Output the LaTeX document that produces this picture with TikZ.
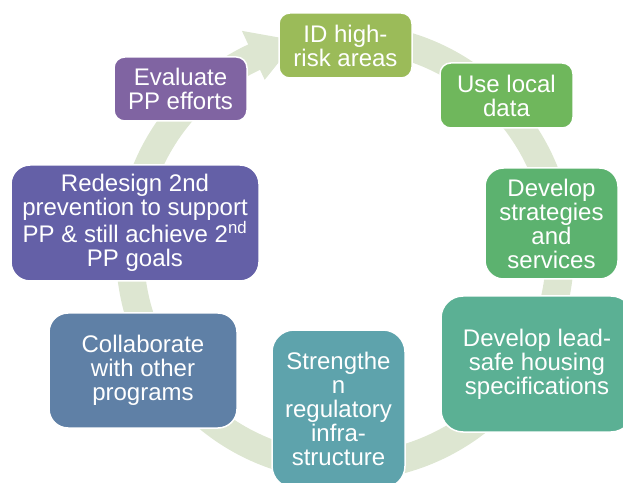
\documentclass[tikz,border=0pt]{standalone}
\usepackage{fontspec}
\setmainfont{Liberation Sans}
\usetikzlibrary{calc}

% stage fills, going round the cycle
\definecolor{cycleband}{RGB}{221,230,209}
\definecolor{stageA}{RGB}{155,187,89}
\definecolor{stageB}{RGB}{111,183,92}
\definecolor{stageC}{RGB}{92,178,111}
\definecolor{stageD}{RGB}{91,176,148}
\definecolor{stageE}{RGB}{94,163,172}
\definecolor{stageF}{RGB}{95,128,166}
\definecolor{stageG}{RGB}{100,96,167}
\definecolor{stageH}{RGB}{128,100,162}

\begin{document}
\begin{tikzpicture}[x=1pt,y=1pt,
  stage/.style={draw=white, line width=1.5pt, text=white, align=center,
    inner sep=0pt, font=\fontsize{24}{24}\selectfont},
  band/.style={fill=cycleband, draw=none}]
\clip (0,0) rectangle (623,482);

% circular arrow running clockwise behind the stages
\coordinate (hub) at (345,230);
\fill[band] ($(hub)+(80:229)$) arc[start angle=80, end angle=-245, radius=229]
  -- ($(hub)+(-245:244)$) -- ($(hub)+(-257:217)$) -- ($(hub)+(-245:190)$)
  -- ($(hub)+(-245:201)$) arc[start angle=-245, end angle=80, radius=201] -- cycle;

% stages
\node[stage, fill=stageA, minimum width=133pt, minimum height=65pt, rounded corners=10.8pt]
  (idrisk) at (345.5,436.5) {ID high-\\risk areas};
\node[stage, fill=stageB, minimum width=133pt, minimum height=65pt, rounded corners=10.8pt]
  (localdata) at (506.5,386.5) {Use local\\data};
\node[stage, fill=stageC, minimum width=133pt, minimum height=111pt, rounded corners=18.5pt]
  (strategies) at (551.5,258.5) {Develop\\strategies\\and\\services};
\node[stage, fill=stageD, minimum width=192pt, minimum height=136pt, rounded corners=22pt]
  (housing) at (537,118) {Develop lead-\\safe housing\\specifications};
\node[stage, fill=stageE, minimum width=133pt, minimum height=158pt, rounded corners=22pt]
  (regulatory) at (338.5,73) {Strengthe\\n\\regulatory\\infra-\\structure};
\node[stage, fill=stageF, minimum width=188pt, minimum height=115pt, rounded corners=19pt]
  (collab) at (143,111.5) {Collaborate\\with other\\programs};
\node[stage, fill=stageG, minimum width=248pt, minimum height=116pt, rounded corners=19pt]
  (redesign) at (135,259) {Redesign 2nd\\prevention to support\\PP \& still achieve 2\textsuperscript{nd}\\PP goals};
\node[stage, fill=stageH, minimum width=133pt, minimum height=64pt, rounded corners=10.7pt]
  (evaluate) at (180.5,393) {Evaluate\\PP efforts};
\end{tikzpicture}
\end{document}
